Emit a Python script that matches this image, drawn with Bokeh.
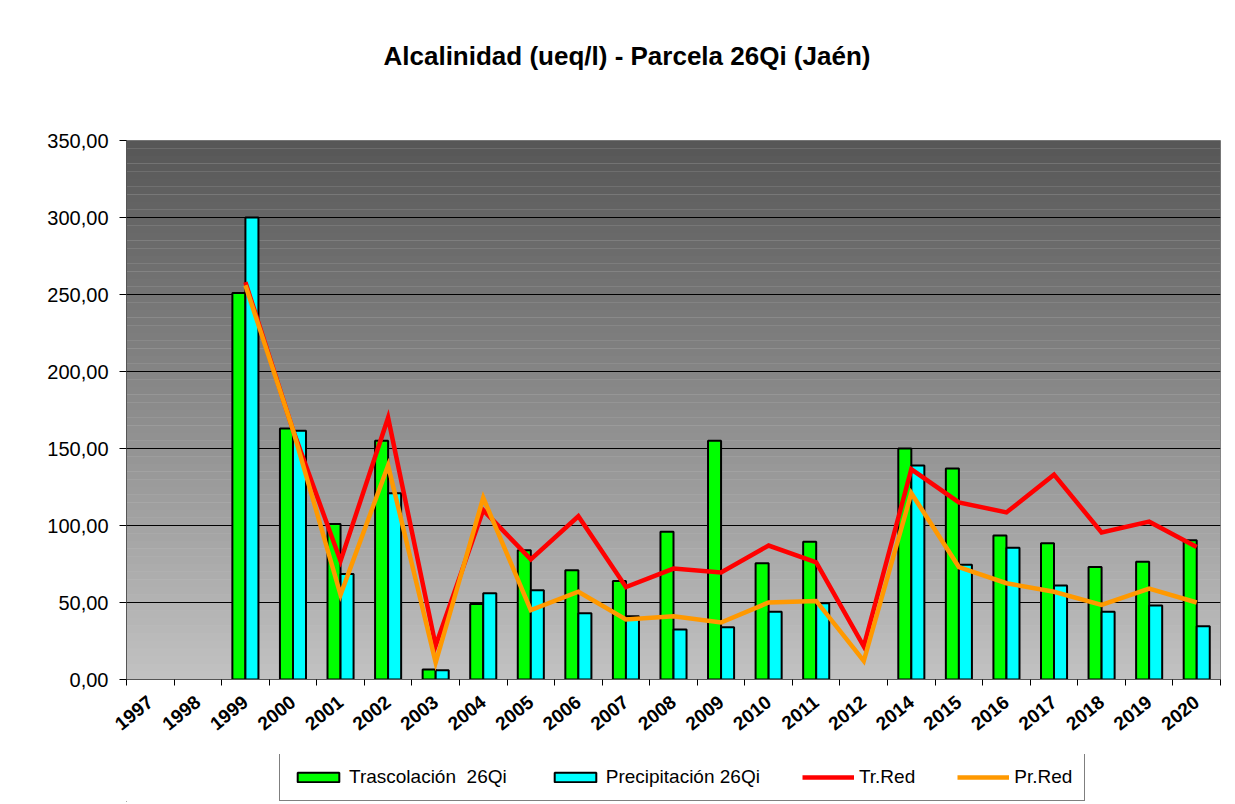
import numpy as np
from bokeh.plotting import figure
from bokeh.layouts import column
from bokeh.models import Range1d, FixedTicker, Legend, LegendItem, Title
from bokeh.embed import file_html
from bokeh.resources import INLINE

years = ["1997", "1998", "1999", "2000", "2001", "2002", "2003", "2004", "2005", "2006", "2007", "2008",
         "2009", "2010", "2011", "2012", "2014", "2015", "2016", "2017", "2018", "2019", "2020"]
trascolacion = [None, None, 251, 163, 101, 155, 6.5, 49, 84, 71, 64, 96,
                155, 75.5, 89.5, None, 150, 137, 93.5, 88.5, 73, 76.5, 90.5]
precipitacion = [None, None, 300, 161.5, 68.5, 121, 6, 56, 58, 43, 41, 32.5,
                 34, 44, 49.5, None, 139, 74.5, 85.5, 61, 44, 48, 34.5]
tr_red = [None, None, 258, 162, 77, 170, 22, 110, 78, 106, 60, 72,
          69.5, 87, 76, 21.5, 136.5, 115, 108.5, 133, 95.5, 102.5, 86]
pr_red = [None, None, 256, 162, 55, 139, 11, 118, 45, 57, 39, 41,
          37, 50, 51, 12, 121, 73, 62.5, 57, 48.5, 59, 50]
y_ticks = [0, 50, 100, 150, 200, 250, 300, 350]
y_tick_labels = ["0,00", "50,00", "100,00", "150,00", "200,00", "250,00", "300,00", "350,00"]
title_text = "Alcalinidad (ueq/l) - Parcela 26Qi (Jaén)"
series_names = ["Trascolación  26Qi", "Precipitación 26Qi", "Tr.Red", "Pr.Red"]

FONT = "Liberation Sans"
n = len(years)
centers = np.arange(n) + 0.5
YMAX = 350
W = 1227

GREEN, CYAN, RED, ORANGE = "#00ff00", "#00ffff", "#ff0000", "#ff9900"

p = figure(width=W, height=754, x_range=Range1d(0, n), y_range=Range1d(0, YMAX),
           output_backend="svg", toolbar_location=None,
           min_border_left=126, min_border_right=7, min_border_top=140, min_border_bottom=75,
           background_fill_color="#c0c0c0", border_fill_color="white")

# gradient background (decorative stripes)
nstripes = 70
edges = np.linspace(0, YMAX, nstripes + 1)
cols = []
for i in range(nstripes):
    f = (i + 0.5) / nstripes
    v = int(round(194 - (194 - 86) * f))
    cols.append("#%02x%02x%02x" % (v, v, v))
bg = p.quad(left=0, right=n, bottom=edges[:-1], top=edges[1:], fill_color=cols, line_color=None)
bg.level = "image"

def pts(vals, off):
    xs = [c + off for c, v in zip(centers, vals) if v is not None]
    ys = [v for v in vals if v is not None]
    return xs, ys

bw = 0.274
gx, gy = pts(trascolacion, -bw / 2)
cx, cy = pts(precipitacion, bw / 2)
p.vbar(x=gx, top=gy, bottom=0, width=bw, fill_color=GREEN, line_color="black", line_width=2)
p.vbar(x=cx, top=cy, bottom=0, width=bw, fill_color=CYAN, line_color="black", line_width=2)

rx, ry = pts(tr_red, 0)
ox, oy = pts(pr_red, 0)
p.line(rx, ry, line_color=RED, line_width=4.5, line_join="miter")
p.line(ox, oy, line_color=ORANGE, line_width=4.5, line_join="miter")

# axes
p.xgrid.visible = False
p.ygrid.grid_line_color = "black"
p.ygrid.grid_line_width = 1
p.ygrid.ticker = FixedTicker(ticks=y_ticks)

p.yaxis.ticker = FixedTicker(ticks=y_ticks)
p.yaxis.major_label_overrides = {t: l for t, l in zip(y_ticks, y_tick_labels)}
p.yaxis.major_label_text_font = FONT
p.yaxis.major_label_text_font_size = "20px"
p.yaxis.major_label_text_color = "black"
p.yaxis.major_tick_out = 7
p.yaxis.major_tick_in = 0
p.yaxis.minor_tick_out = 0
p.yaxis.minor_tick_in = 0
p.yaxis.major_label_standoff = 11
p.yaxis.axis_line_color = "#555555"
p.yaxis.major_tick_line_color = "black"

p.xaxis.ticker = FixedTicker(ticks=list(centers), minor_ticks=list(np.arange(n + 1)))
p.xaxis.major_label_overrides = {float(c): y for c, y in zip(centers, years)}
p.xaxis.major_label_orientation = 0.68
p.xaxis.major_label_text_font = FONT
p.xaxis.major_label_text_font_style = "bold"
p.xaxis.major_label_text_font_size = "19px"
p.xaxis.major_label_text_color = "black"
p.xaxis.major_tick_out = 0
p.xaxis.major_tick_in = 0
p.xaxis.minor_tick_out = 6
p.xaxis.minor_tick_in = 0
p.xaxis.minor_tick_line_color = "black"
p.xaxis.major_label_standoff = 14
p.xaxis.axis_line_color = "#555555"

p.outline_line_color = "#808080"
p.outline_line_width = 1

# title: a spacer title next to the frame, then the real title above it
p.add_layout(Title(text="\u00a0", text_font=FONT, text_font_size="10px", standoff=57), "above")
p.add_layout(Title(text=title_text, text_font=FONT, text_font_style="bold", text_font_size="26px",
                   text_color="black", align="left", offset=257, standoff=0), "above")

# legend figure (legend proxies kept outside the visible range)
lg = figure(width=W, height=48, output_backend="svg", toolbar_location=None,
            x_axis_type=None, y_axis_type=None, min_border=0,
            x_range=Range1d(0, 1), y_range=Range1d(0, 1),
            outline_line_color=None, background_fill_color="white", border_fill_color="white")
lg.xgrid.visible = False
lg.ygrid.visible = False
l_g = lg.vbar(x=[-5], top=[-5], bottom=-6, width=0.1, fill_color=GREEN, line_color="black", line_width=2)
l_c = lg.vbar(x=[-5], top=[-5], bottom=-6, width=0.1, fill_color=CYAN, line_color="black", line_width=2)
l_r = lg.line(x=[-6, -5], y=[-5, -5], line_color=RED, line_width=4.5)
l_o = lg.line(x=[-6, -5], y=[-5, -5], line_color=ORANGE, line_width=4.5)

legend = Legend(items=[
    LegendItem(label=series_names[0], renderers=[l_g]),
    LegendItem(label=series_names[1], renderers=[l_c]),
    LegendItem(label=series_names[2], renderers=[l_r]),
    LegendItem(label=series_names[3], renderers=[l_o]),
], orientation="horizontal", location=(153, 1),
    label_text_font=FONT, label_text_font_size="19px", label_text_color="black",
    glyph_width=52, glyph_height=12, label_standoff=5, label_height=20, spacing=42,
    padding=12, margin=0, border_line_color="black", border_line_width=1,
    background_fill_color="white", background_fill_alpha=1)
lg.add_layout(legend, "center")

layout = column(p, lg, spacing=0)
open("out.html", "w").write(file_html(layout, INLINE))
